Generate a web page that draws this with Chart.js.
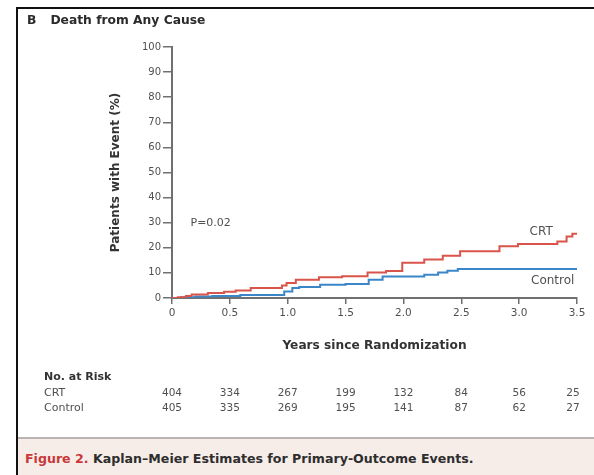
<!DOCTYPE html>
<html>
<head>
<meta charset="utf-8">
<script src="https://cdn.jsdelivr.net/npm/chart.js@4.4.1/dist/chart.umd.min.js"></script>
<style>
  html, body { margin: 0; padding: 0; background: #fff; }
  #wrap { position: relative; width: 594px; height: 475px; overflow: hidden; background: #fff; font-family: "DejaVu Sans", sans-serif; }
  #frameTop { position: absolute; left: 16px; top: 7px; width: 578px; height: 2px; background: #111; }
  #frameLeft { position: absolute; left: 16px; top: 7px; width: 2px; height: 468px; background: #111; }
  #panelTitle { position: absolute; left: 27px; top: 13px; font-size: 12.3px; font-weight: 700; color: #2b2b2b; white-space: nowrap; }
  #panelTitle b { margin-right: 14px; }
  #captionBand { position: absolute; left: 18px; top: 437px; width: 576px; height: 38px; background: #f7ede8; border-top: 2px solid #b9b4b1; }
  #caption { position: absolute; left: 7px; top: 12px; font-size: 12.6px; font-weight: 700; color: #2e2e2e; white-space: nowrap; }
  #caption span { color: #c8393a; }
  canvas { position: absolute; left: 0; top: 0; }
</style>
</head>
<body>
<div id="wrap">
  <canvas id="km" width="594" height="475"></canvas>
  <div id="frameTop"></div>
  <div id="frameLeft"></div>
  <div id="panelTitle"><b>B</b>Death from Any Cause</div>
  <div id="captionBand"><div id="caption"><span>Figure 2.</span> Kaplan–Meier Estimates for Primary-Outcome Events.</div></div>
</div>
<script>
// Cumulative incidence of death (%), step points: time in years, percent with event
const crtYears = [0, 0.05, 0.12, 0.17, 0.31, 0.45, 0.55, 0.68, 0.95, 0.99, 1.07, 1.27, 1.47, 1.69, 1.85, 1.99, 2.18, 2.34, 2.49, 2.83, 2.99, 3.33, 3.41, 3.46, 3.5];
const crtPct   = [0, 0.3, 0.8, 1.4, 2.0, 2.5, 3.0, 4.0, 5.0, 6.0, 7.3, 8.3, 8.7, 10.2, 10.8, 14.0, 15.3, 16.8, 18.6, 20.6, 21.5, 22.5, 24.5, 25.6, 25.6];

const controlYears = [0, 0.08, 0.2, 0.35, 0.59, 0.97, 1.04, 1.1, 1.28, 1.5, 1.7, 1.82, 2.18, 2.3, 2.38, 2.47, 3.5];
const controlPct   = [0, 0.3, 0.6, 0.8, 1.2, 2.6, 4.0, 4.4, 5.3, 5.6, 7.3, 8.6, 9.3, 10.2, 10.9, 11.6, 11.6];

// Axis ticks
const yearTicks = [0, 0.5, 1.0, 1.5, 2.0, 2.5, 3.0, 3.5];
const yearTickLabels = ['0', '0.5', '1.0', '1.5', '2.0', '2.5', '3.0', '3.5'];
const pctTicks = [0, 10, 20, 30, 40, 50, 60, 70, 80, 90, 100];

// Number at risk at each year tick
const riskGroups = ['CRT', 'Control'];
const crtAtRisk = [404, 334, 267, 199, 132, 84, 56, 25];
const controlAtRisk = [405, 335, 269, 195, 141, 87, 62, 27];

const pValueText = 'P=0.02';

const toPoints = (xs, ys) => xs.map((x, i) => ({ x: x, y: ys[i] }));

const FONT = '"DejaVu Sans", sans-serif';
const AXIS_COLOR = '#707070';
const TEXT_COLOR = '#505050';

const annotations = {
  id: 'kmAnnotations',
  afterDraw(chart) {
    const ctx = chart.ctx;
    const xs = chart.scales.x;
    const ys = chart.scales.y;
    const area = chart.chartArea;
    ctx.save();

    // y-axis title
    ctx.font = '700 12px ' + FONT;
    ctx.fillStyle = '#333';
    ctx.textAlign = 'center';
    ctx.textBaseline = 'middle';
    ctx.save();
    ctx.translate(116, (area.top + area.bottom) / 2);
    ctx.rotate(-Math.PI / 2);
    ctx.fillText('Patients with Event (%)', 0, 0);
    ctx.restore();

    // x-axis title
    ctx.font = '700 12.2px ' + FONT;
    ctx.fillText('Years since Randomization', (area.left + area.right) / 2, 346);

    // P value
    ctx.font = '11px ' + FONT;
    ctx.fillStyle = TEXT_COLOR;
    ctx.textAlign = 'left';
    ctx.fillText(pValueText, xs.getPixelForValue(0.16), ys.getPixelForValue(30));

    // curve labels
    ctx.textAlign = 'center';
    ctx.font = '12px ' + FONT;
    ctx.fillText(riskGroups[0], xs.getPixelForValue(3.19), ys.getPixelForValue(26.3));
    ctx.fillText(riskGroups[1], xs.getPixelForValue(3.29), ys.getPixelForValue(6.8));

    // number-at-risk table
    ctx.textAlign = 'left';
    ctx.font = '700 11px ' + FONT;
    ctx.fillStyle = '#333';
    ctx.fillText('No. at Risk', 44, 377);
    ctx.font = '11px ' + FONT;
    ctx.fillStyle = TEXT_COLOR;
    ctx.fillText(riskGroups[0], 44, 393);
    ctx.fillText(riskGroups[1], 44, 408);
    ctx.font = '10.5px ' + FONT;
    ctx.textAlign = 'center';
    yearTicks.forEach((t, i) => {
      const px = xs.getPixelForValue(t) - (i === yearTicks.length - 1 ? 4 : 0);
      ctx.fillText(String(crtAtRisk[i]), px, 393);
      ctx.fillText(String(controlAtRisk[i]), px, 408);
    });
    ctx.restore();
  }
};

new Chart(document.getElementById('km'), {
  type: 'line',
  data: {
    datasets: [
      {
        label: 'CRT',
        data: toPoints(crtYears, crtPct),
        borderColor: '#d9544a',
        borderWidth: 2,
        stepped: 'before',
        pointRadius: 0,
        fill: false
      },
      {
        label: 'Control',
        data: toPoints(controlYears, controlPct),
        borderColor: '#3a86c8',
        borderWidth: 2,
        stepped: 'before',
        pointRadius: 0,
        fill: false
      }
    ]
  },
  options: {
    responsive: false,
    animation: false,
    devicePixelRatio: 1,
    layout: { padding: { left: 0, top: 47, right: 17, bottom: 0 } },
    plugins: { legend: { display: false }, tooltip: { enabled: false } },
    scales: {
      x: {
        type: 'linear',
        min: 0,
        max: 3.5,
        afterFit(scale) { scale.height = 177; },
        afterBuildTicks(scale) { scale.ticks = yearTicks.map(v => ({ value: v })); },
        ticks: {
          callback: (v) => yearTickLabels[yearTicks.indexOf(v)] ?? '',
          color: TEXT_COLOR,
          font: { family: FONT, size: 10.5 },
          padding: 3,
          maxRotation: 0
        },
        grid: { drawOnChartArea: false, drawTicks: true, tickLength: 6, color: AXIS_COLOR, lineWidth: 1.5 },
        border: { display: true, color: AXIS_COLOR, width: 2 }
      },
      y: {
        type: 'linear',
        min: 0,
        max: 100,
        afterFit(scale) { scale.width = 172; },
        afterBuildTicks(scale) { scale.ticks = pctTicks.map(v => ({ value: v })); },
        ticks: {
          color: TEXT_COLOR,
          font: { family: FONT, size: 10 },
          padding: 2
        },
        grid: { drawOnChartArea: false, drawTicks: true, tickLength: 9, color: AXIS_COLOR, lineWidth: 1.5 },
        border: { display: true, color: AXIS_COLOR, width: 2 }
      }
    }
  },
  plugins: [annotations]
});
</script>
</body>
</html>
